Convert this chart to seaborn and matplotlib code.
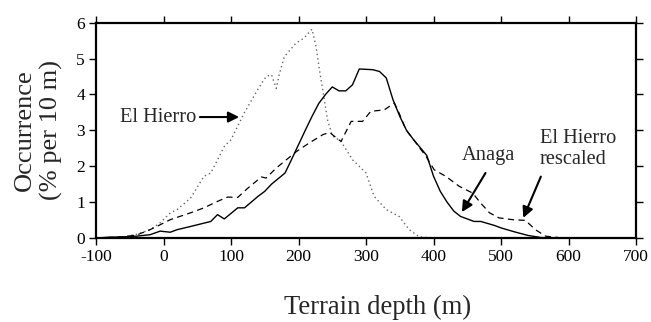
import numpy as np
import pandas as pd
import seaborn as sns
import matplotlib
matplotlib.use("Agg")
import matplotlib.pyplot as plt

# Anaga (linea continua)
anaga_x = [-100, -80, -60, -40, -20, -5, 10, 20, 40, 70, 80, 90, 110, 120, 140, 150, 160,
           180, 190, 200, 210, 220, 230, 240, 250, 260, 270, 280, 290, 300, 310, 320, 330,
           340, 350, 360, 370, 390, 400, 410, 420, 430, 440, 460, 470, 490, 500, 520, 540,
           560, 580]
anaga_y = [0.0, 0.02, 0.03, 0.05, 0.09, 0.19, 0.16, 0.23, 0.32, 0.46, 0.65, 0.53, 0.84, 0.84,
           1.16, 1.3, 1.5, 1.81, 2.2, 2.6, 3.0, 3.39, 3.75, 4.0, 4.21, 4.1, 4.1, 4.27, 4.71,
           4.7, 4.69, 4.64, 4.46, 3.85, 3.39, 3.0, 2.75, 2.3, 1.72, 1.3, 1.0, 0.75, 0.6, 0.46,
           0.46, 0.35, 0.28, 0.17, 0.07, 0.01, 0.0]

# El Hierro (punteada)
hierro_x = [-100, -60, -40, -20, -5, 10, 20, 40, 60, 70, 90, 100, 120, 140, 152, 160, 167,
            172, 179, 196, 208, 220, 226, 231, 236, 243, 250, 263, 280, 300, 312, 330, 349,
            364, 379, 400]
hierro_y = [0.0, 0.03, 0.1, 0.23, 0.42, 0.7, 0.79, 1.11, 1.72, 1.81, 2.55, 2.74, 3.5, 4.15,
            4.5, 4.55, 4.17, 4.6, 5.05, 5.43, 5.57, 5.82, 5.33, 4.68, 4.12, 3.29, 2.85, 2.69,
            2.18, 1.81, 1.16, 0.79, 0.6, 0.23, 0.03, 0.0]

# El Hierro reescalado (discontinua)
resc_x = [-100, -60, -40, -20, -10, 10, 40, 60, 80, 95, 110, 125, 145, 152, 167, 182, 197,
          216, 236, 246, 263, 278, 295, 307, 327, 342, 349, 359, 374, 389, 401, 418, 438,
          458, 470, 483, 497, 517, 536, 551, 566, 586, 600]
resc_y = [0.0, 0.03, 0.08, 0.23, 0.32, 0.51, 0.7, 0.84, 1.02, 1.14, 1.13, 1.39, 1.7, 1.67,
          1.95, 2.18, 2.41, 2.65, 2.88, 2.94, 2.69, 3.25, 3.25, 3.53, 3.57, 3.76, 3.48, 3.02,
          2.65, 2.27, 1.9, 1.72, 1.44, 1.25, 0.97, 0.7, 0.56, 0.51, 0.49, 0.23, 0.05, 0.01,
          0.0]

x_ticks = [-100, 0, 100, 200, 300, 400, 500, 600, 700]
y_ticks = [0, 1, 2, 3, 4, 5, 6]

sns.set_theme(style="ticks")
plt.rcParams['font.family'] = ['Liberation Serif', 'DejaVu Serif']
plt.rcParams['axes.unicode_minus'] = False

fig = plt.figure(figsize=(6.51, 3.22), dpi=100)
ax = fig.add_axes([0.1475, 0.261, 0.8295, 0.6685])

sns.lineplot(x=hierro_x, y=hierro_y, ax=ax, color="#666666", lw=1.0, linestyle=(0, (1, 2.2)))
sns.lineplot(x=resc_x, y=resc_y, ax=ax, color="black", lw=0.9, linestyle=(0, (5, 3.5)))
sns.lineplot(x=anaga_x, y=anaga_y, ax=ax, color="black", lw=1.0)

ax.set_xlim(-100, 700)
ax.set_ylim(0, 6)
ax.set_xticks(x_ticks)
ax.set_yticks(y_ticks)
ax.tick_params(direction="out", length=5, width=1, labelsize=12.5, colors="black",
               top=True, right=True, labeltop=False, labelright=False, pad=3)
for s in ax.spines.values():
    s.set_linewidth(1.6)
    s.set_color("black")

ax.set_xlabel("Terrain depth (m)", fontsize=19.2, va="top")
ax.xaxis.set_label_coords(0.522, -0.265)
ax.set_ylabel("Occurrence\n(% per 10 m)", fontsize=19, linespacing=1.2)
ax.yaxis.set_label_coords(-0.062, 0.5)

flecha = dict(arrowstyle="-|>", color="black", lw=1.5, mutation_scale=16,
              shrinkA=0, shrinkB=0)
ax.annotate("El Hierro", xy=(112, 3.37), xytext=(49, 3.37), fontsize=14.7,
            ha="right", va="center", arrowprops=flecha)
ax.annotate("", xy=(442, 0.72), xytext=(477, 1.81), arrowprops=flecha)
ax.text(481, 2.3, "Anaga", fontsize=14.7, ha="center", va="center")
ax.annotate("", xy=(533, 0.56), xytext=(559, 1.71), arrowprops=flecha)
ax.text(557, 2.48, "El Hierro\nrescaled", fontsize=14.7, ha="left", va="center",
        linespacing=1.2)

fig.savefig("out.png", dpi=100)
